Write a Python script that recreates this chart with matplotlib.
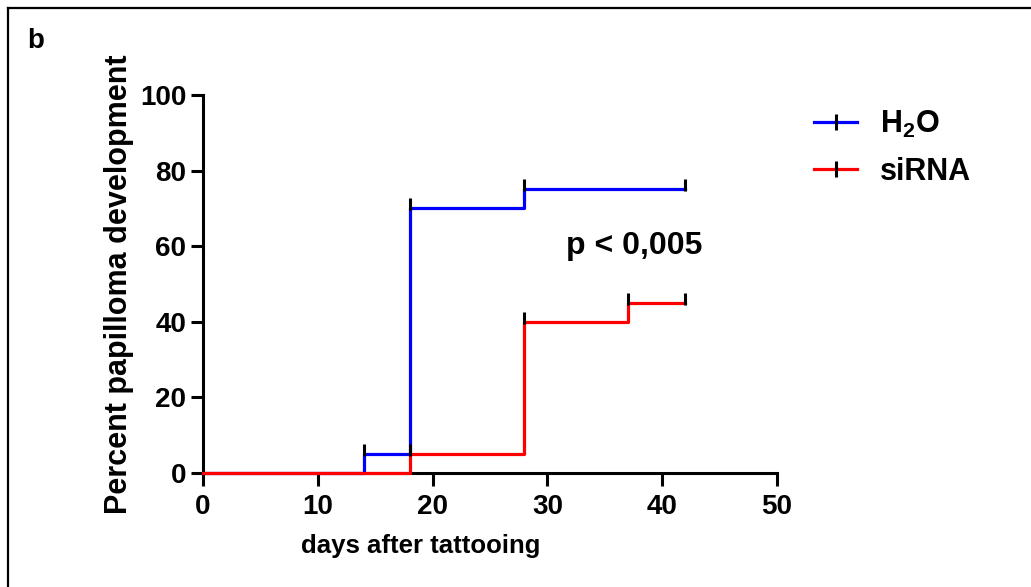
import matplotlib
matplotlib.use("Agg")
import matplotlib.pyplot as plt
from matplotlib.lines import Line2D
from matplotlib.path import Path

plt.rcParams['font.family'] = ['Liberation Sans', 'DejaVu Sans']
plt.rcParams['font.weight'] = 'bold'
plt.rcParams['mathtext.fontset'] = 'custom'
plt.rcParams['mathtext.rm'] = 'Liberation Sans:bold'
plt.rcParams['mathtext.bf'] = 'Liberation Sans:bold'
plt.rcParams['mathtext.default'] = 'bf'

# Kaplan-Meier style step data (days, percent)
h2o_days = [0, 14, 18, 28, 42]
h2o_pct = [0, 5, 70, 75, 75]
sirna_days = [0, 18, 28, 37, 42]
sirna_pct = [0, 5, 40, 45, 45]

x_ticks = [0, 10, 20, 30, 40, 50]
y_ticks = [0, 20, 40, 60, 80, 100]

fig = plt.figure(figsize=(10.31, 5.87), dpi=100)
ax = fig.add_axes([0.1969, 0.1942, 0.7536 - 0.1969, 0.8382 - 0.1942])

# censor tick pointing up from the line
tick_mark = Path([(0, -0.2), (0, 1.0)], [Path.MOVETO, Path.LINETO])

ax.step(h2o_days, h2o_pct, where='post', color='#0000ff', lw=2.3, clip_on=False, zorder=3)
ax.step(sirna_days, sirna_pct, where='post', color='#ff0000', lw=2.3, clip_on=False, zorder=4)
ax.plot(h2o_days[1:], h2o_pct[1:], ls='none', marker=tick_mark, ms=15,
        mec='black', mew=2.2, clip_on=False, zorder=5)
ax.plot(sirna_days[1:], sirna_pct[1:], ls='none', marker=tick_mark, ms=15,
        mec='black', mew=2.2, clip_on=False, zorder=5)

ax.set_xlim(0, 50)
ax.set_ylim(0, 100)
ax.set_xticks(x_ticks)
ax.set_yticks(y_ticks)
for s in ['top', 'right']:
    ax.spines[s].set_visible(False)
for s in ['left', 'bottom']:
    ax.spines[s].set_linewidth(2.2)
ax.tick_params(axis='both', length=9, width=2.2, labelsize=20, pad=3)
ax.tick_params(axis='x', pad=6)
for lab in ax.get_xticklabels() + ax.get_yticklabels():
    lab.set_fontweight('bold')

ax.set_xlabel('days after tattooing', fontsize=18.5, fontweight='bold')
ax.xaxis.set_label_coords(0.38, -0.162)
ax.set_ylabel('Percent papilloma development', fontsize=22, fontweight='bold', labelpad=4)

ax.text(37.6, 60, 'p < 0,005', fontsize=23, fontweight='bold', ha='center', va='center')

handles = [
    Line2D([], [], color='#0000ff', lw=2.3, marker='|', ms=12, mec='black', mew=2.2),
    Line2D([], [], color='#ff0000', lw=2.3, marker='|', ms=12, mec='black', mew=2.2),
]
fig.legend(handles, ['H$_2$O', 'siRNA'], loc='upper left', bbox_to_anchor=(0.79, 0.815),
           frameon=False, fontsize=22, handlelength=1.4, handletextpad=0.75,
           labelspacing=0.55, borderaxespad=0, borderpad=0, numpoints=1)

fig.text(36 / 1031, 1 - 41 / 587, 'b', fontsize=20, fontweight='bold', ha='center', va='center')

# frame lines at top and left edge of the panel
fig.add_artist(Line2D([8 / 1031, 1], [1 - 8 / 587, 1 - 8 / 587], color='black', lw=1.6,
                      transform=fig.transFigure))
fig.add_artist(Line2D([8 / 1031, 8 / 1031], [0, 1 - 8 / 587], color='black', lw=1.6,
                      transform=fig.transFigure))

fig.savefig('out.png', dpi=100)
